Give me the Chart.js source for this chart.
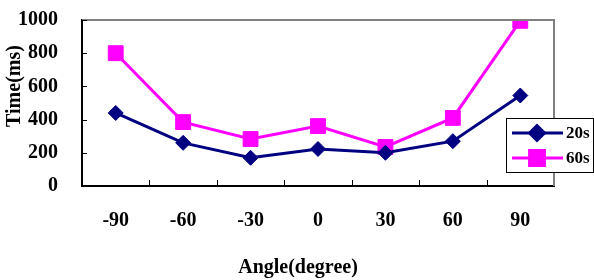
<!DOCTYPE html>
<html>
<head>
<meta charset="utf-8">
<script src="https://cdn.jsdelivr.net/npm/chart.js@4"></script>
<style>
    html, body { margin: 0; padding: 0; background: #fff; }
    #wrap { width: 594px; height: 280px; }
</style>
</head>
<body>
<div id="wrap"><canvas id="angleChart" width="594" height="280"></canvas></div>
<script>
// data
const angles = ['-90', '-60', '-30', '0', '30', '60', '90'];
const time20s = [440, 260, 170, 223, 200, 270, 545];
const time60s = [800, 385, 283, 361, 235, 410, 995];
const yTicks = [0, 200, 400, 600, 800, 1000];

const FONT = "'Liberation Serif', 'Times New Roman', serif";

// tick marks pointing inward, grey top/right border, titles and the boxed legend
const frame = {
    id: 'frame',
    afterDraw(chart) {
        const { ctx, chartArea: a, scales: { x, y } } = chart;
        ctx.save();

        ctx.strokeStyle = '#808080';
        ctx.lineWidth = 2;
        ctx.beginPath();
        ctx.moveTo(a.left, a.top);
        ctx.lineTo(a.right, a.top);
        ctx.lineTo(a.right, a.bottom);
        ctx.stroke();

        ctx.strokeStyle = '#000';
        ctx.lineWidth = 1;
        ctx.beginPath();
        yTicks.forEach(v => {
            const py = Math.round(y.getPixelForValue(v)) + 0.5;
            ctx.moveTo(a.left, py);
            ctx.lineTo(a.left + 5, py);
        });
        const half = (x.getPixelForValue(1) - x.getPixelForValue(0)) / 2;
        for (let i = 0; i < angles.length - 1; i++) {
            const px = Math.round(x.getPixelForValue(i) + half) + 0.5;
            ctx.moveTo(px, a.bottom);
            ctx.lineTo(px, a.bottom - 6);
        }
        ctx.stroke();

        // axis titles
        ctx.fillStyle = '#000';
        ctx.font = 'bold 20px ' + FONT;
        ctx.textAlign = 'center';
        ctx.textBaseline = 'middle';
        ctx.fillText('Angle(degree)', 298, 268);
        ctx.save();
        ctx.translate(15, 86);
        ctx.rotate(-Math.PI / 2);
        ctx.fillText('Time(ms)', 0, 0);
        ctx.restore();

        // legend
        const lx = 506, ly = 118, lw = 87, lh = 54;
        ctx.fillStyle = '#fff';
        ctx.fillRect(lx, ly, lw, lh);
        ctx.strokeStyle = '#000';
        ctx.lineWidth = 1;
        ctx.strokeRect(lx + 0.5, ly + 0.5, lw, lh);
        const rows = [133, 158];
        chart.data.datasets.forEach((ds, i) => {
            const ry = rows[i];
            ctx.strokeStyle = ds.borderColor;
            ctx.lineWidth = 3;
            ctx.beginPath();
            ctx.moveTo(512, ry);
            ctx.lineTo(563, ry);
            ctx.stroke();
            Chart.helpers.drawPoint(ctx, {
                pointStyle: ds.pointStyle,
                radius: ds.pointRadius,
                borderWidth: 1
            }, 537, ry);
            ctx.fillStyle = ds.pointBackgroundColor;
            ctx.fill();
            ctx.fillStyle = '#000';
            ctx.font = 'bold 17px ' + FONT;
            ctx.textAlign = 'left';
            ctx.fillText(ds.label, 566, ry + 1);
        });

        ctx.restore();
    }
};

const ctx = document.getElementById('angleChart').getContext('2d');
const angleChart = new Chart(ctx, {
    type: 'line',
    data: {
        labels: angles,
        datasets: [{
            label: '20s',
            data: time20s,
            borderColor: '#000080',
            backgroundColor: '#000080',
            pointBackgroundColor: '#000080',
            pointBorderColor: '#000080',
            borderWidth: 3,
            pointStyle: 'rectRot',
            pointRadius: 7.5,
            pointBorderWidth: 1,
            tension: 0
        }, {
            label: '60s',
            data: time60s,
            borderColor: '#FF00FF',
            backgroundColor: '#FF00FF',
            pointBackgroundColor: '#FF00FF',
            pointBorderColor: '#FF00FF',
            borderWidth: 3,
            pointStyle: 'rect',
            pointRadius: 10.5,
            pointBorderWidth: 1,
            tension: 0
        }]
    },
    options: {
        responsive: false,
        animation: false,
        layout: {
            padding: { top: 20, right: 40, left: 0, bottom: 0 }
        },
        plugins: {
            legend: { display: false },
            tooltip: { enabled: false }
        },
        scales: {
            x: {
                offset: true,
                grid: { display: false, offset: true },
                border: { display: true, color: '#000', width: 2 },
                ticks: {
                    color: '#000',
                    padding: 15,
                    font: { family: FONT, size: 20, weight: 'bold' }
                },
                afterFit(scale) { scale.height = 94; }
            },
            y: {
                min: 0,
                max: 1000,
                grid: { display: false },
                border: { display: true, color: '#000', width: 2 },
                afterBuildTicks(scale) { scale.ticks = yTicks.map(v => ({ value: v })); },
                ticks: {
                    color: '#000',
                    padding: 16,
                    font: { family: FONT, size: 20, weight: 'bold' },
                    callback: v => String(v)
                },
                afterFit(scale) {
                    scale.width = 82;
                    scale.paddingTop = 0;
                    scale.paddingBottom = 0;
                }
            }
        }
    },
    plugins: [frame]
});
</script>
</body>
</html>
